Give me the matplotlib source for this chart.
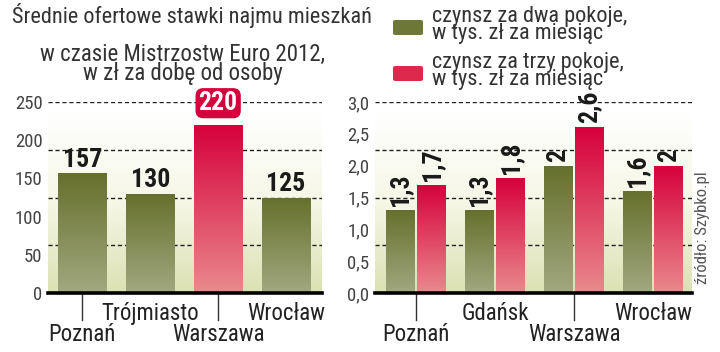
import numpy as np
import matplotlib
matplotlib.use("Agg")
import matplotlib.pyplot as plt
from matplotlib.colors import LinearSegmentedColormap
from matplotlib.patches import FancyBboxPatch
import matplotlib.transforms as mtransforms

plt.rcParams['font.family'] = ['Roboto Condensed', 'Fira Sans Condensed', 'DejaVu Sans']

# data
left_cities = ['Poznań', 'Trójmiasto', 'Warszawa', 'Wrocław']
left_values = [157, 130, 220, 125]
left_ticks = [0, 50, 100, 150, 200, 250]

right_cities = ['Poznań', 'Gdańsk', 'Warszawa', 'Wrocław']
two_rooms = [1.3, 1.3, 2.0, 1.6]
three_rooms = [1.7, 1.8, 2.6, 2.0]
two_labels = ['1,3', '1,3', '2', '1,6']
three_labels = ['1,7', '1,8', '2,6', '2']
right_ticks = [0.0, 0.5, 1.0, 1.5, 2.0, 2.5, 3.0]

GREEN_TOP, GREEN_BOT = '#66702c', '#a2a880'
RED_TOP, RED_BOT = '#d6003c', '#e98a8c'
TEXT = '#333333'
green_cm = LinearSegmentedColormap.from_list('g', [GREEN_BOT, GREEN_TOP])
red_cm = LinearSegmentedColormap.from_list('r', [RED_BOT, RED_TOP])
bg_cm = LinearSegmentedColormap.from_list('bg', ['#dce1b3', '#f6f7e6', '#ffffff'])
grad = np.linspace(0, 1, 256).reshape(-1, 1)

fig = plt.figure(figsize=(7.2, 3.52), dpi=100)


def gradient_bars(ax, x, heights, width, cmap):
    bars = ax.bar(x, heights, width, facecolor='none', edgecolor='none', zorder=3)
    for b in bars:
        x0, w, h = b.get_x(), b.get_width(), b.get_height()
        im = ax.imshow(grad, cmap=cmap, origin='lower', aspect='auto',
                       extent=[x0, x0 + w, 0, h], zorder=3)
        im.set_clip_path(b)
    return bars


def setup(ax, xlim, ymax, ticks, ticklabels, grid_step):
    ax.imshow(grad, cmap=bg_cm, origin='lower', aspect='auto',
              extent=[xlim[0], xlim[1], 0, ymax * 0.95], zorder=0)
    ax.set_xlim(*xlim)
    ax.set_ylim(0, ymax)
    for v in np.arange(1, 5) * grid_step:
        ax.axhline(v, color='#222222', lw=1.0, ls=(0, (3, 2)), zorder=2)
    ax.axhline(0, color='black', lw=2.6, zorder=5, clip_on=False)
    ax.set_yticks(ticks)
    ax.set_yticklabels(ticklabels)
    ax.tick_params(axis='y', length=0, pad=4, labelsize=13.5, labelcolor='#444444')
    ax.set_xticks([])
    for s in ax.spines.values():
        s.set_visible(False)


def city_labels(ax, names):
    tr = mtransforms.blended_transform_factory(ax.transData, ax.transAxes)
    for i, name in enumerate(names):
        if i % 2 == 0:
            ax.plot([i, i], [0, -0.14], color=TEXT, lw=1.0, transform=tr, clip_on=False)
            ax.text(i, -0.215, name, transform=tr, ha='center', va='center', fontsize=16.5,
                    color='#222222')
        else:
            ax.text(i, -0.105, name, transform=tr, ha='center', va='center', fontsize=16.5,
                    color='#222222')


# left chart
axl = fig.add_axes([48 / 720, 1 - 293 / 352, 274 / 720, 191 / 352])
setup(axl, (-0.507, 3.53), 250, left_ticks, [str(t) for t in left_ticks], 62.5)
xl = np.arange(len(left_cities))
for i, v in enumerate(left_values):
    cm = red_cm if left_cities[i] == 'Warszawa' else green_cm
    gradient_bars(axl, [xl[i]], [v], 0.72, cm)
    if left_cities[i] == 'Warszawa':
        axl.annotate(str(v), (xl[i], v), xytext=(0, 7), textcoords='offset points',
                     ha='center', va='bottom', fontsize=18.5, fontweight='bold', color='white',
                     annotation_clip=False, zorder=6,
                     bbox=dict(boxstyle='round,pad=0.12,rounding_size=0.3',
                               fc=RED_TOP, ec='none'))
    else:
        axl.annotate(str(v), (xl[i], v), xytext=(0, 1), textcoords='offset points',
                     ha='center', va='bottom', fontsize=18.5, fontweight='bold',
                     color='#1a1a1a', annotation_clip=False, zorder=6)
city_labels(axl, left_cities)

# right chart
axr = fig.add_axes([375 / 720, 1 - 293 / 352, 317 / 720, 191 / 352])
setup(axr, (-0.519, 3.494), 3.0, right_ticks,
      [f'{t:.1f}'.replace('.', ',') for t in right_ticks], 0.75)
xr = np.arange(len(right_cities))
off = 0.2
w = 0.367
gradient_bars(axr, xr - off, two_rooms, w, green_cm)
gradient_bars(axr, xr + off, three_rooms, w, red_cm)
for i in range(len(right_cities)):
    axr.annotate(two_labels[i], (xr[i] - off, two_rooms[i]), xytext=(0, 3),
                 textcoords='offset points', ha='center', va='bottom', rotation=90,
                 fontsize=18.5, fontweight='bold', color='#1a1a1a', annotation_clip=False,
                 zorder=6)
    axr.annotate(three_labels[i], (xr[i] + off, three_rooms[i]), xytext=(0, 3),
                 textcoords='offset points', ha='center', va='bottom', rotation=90,
                 fontsize=18.5, fontweight='bold', color='#1a1a1a', annotation_clip=False,
                 zorder=6)
city_labels(axr, right_cities)

# source
fig.text(703 / 720, 1 - 228 / 352, 'źródło: Szybko.pl', rotation=90, ha='center',
         va='center', fontsize=12, color='#555555')

# titles
fig.text(12 / 720, 1 - 16 / 352, 'Średnie ofertowe stawki najmu mieszkań', ha='left',
         va='center', fontsize=16, color=TEXT)
fig.text(183 / 720, 1 - 64 / 352, 'w czasie Mistrzostw Euro 2012,\nw zł za dobę od osoby',
         ha='center', va='center', fontsize=16.5, color=TEXT, linespacing=0.78)

# legend
for y0, col, txt in [(20, '#6d7836', 'czynsz za dwa pokoje,\nw tys. zł za miesiąc'),
                     (66, '#dd2a4c', 'czynsz za trzy pokoje,\nw tys. zł za miesiąc')]:
    fig.patches.append(FancyBboxPatch((393 / 720, 1 - (y0 + 15) / 352), 30 / 720, 15 / 352,
                                      boxstyle='round,pad=0,rounding_size=0.004',
                                      transform=fig.transFigure, fc=col, ec='none'))
    fig.text(432 / 720, 1 - (y0 + 5) / 352, txt, ha='left', va='center', fontsize=16,
             color=TEXT, linespacing=0.8)

fig.savefig('out.png', dpi=100)
